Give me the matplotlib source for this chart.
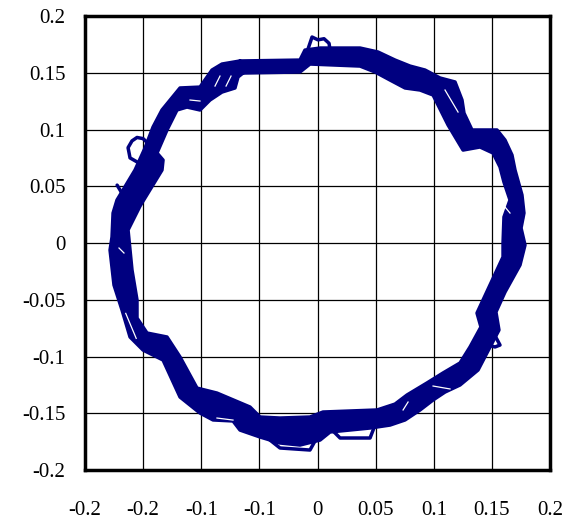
import matplotlib
matplotlib.use('Agg')
import matplotlib.pyplot as plt
from matplotlib.path import Path
from matplotlib.patches import PathPatch

# centre of the flux band
loop_x = [-0.0667, -0.0151, -0.0090, 0.0022, 0.0366, 0.0495, 0.0624, 0.0753, 0.0882, 0.0994,
          0.1140, 0.1286, 0.1398, 0.1527, 0.1587, 0.1656, 0.1716, 0.1742, 0.1673, 0.1725,
          0.1682, 0.1570, 0.1458, 0.1510, 0.1398, 0.1295, 0.1166, 0.1011, 0.0839, 0.0710,
          0.0452, 0.0047, 0.0004, -0.0237, -0.0409, -0.0624, -0.0839, -0.1011, -0.1140, -0.1295,
          -0.1441, -0.1527, -0.1613, -0.1656, -0.1699, -0.1682, -0.1630, -0.1570, -0.1441, -0.1338,
          -0.1252, -0.1140, -0.1028, -0.0908, -0.0796, -0.0667]
loop_y = [0.155, 0.156, 0.164, 0.165, 0.164, 0.159, 0.152, 0.146, 0.144, 0.138,
          0.113, 0.086, 0.093, 0.091, 0.078, 0.056, 0.038, 0.022, 0.010, -0.004,
          -0.018, -0.041, -0.063, -0.077, -0.090, -0.105, -0.119, -0.125, -0.137, -0.149,
          -0.152, -0.154, -0.163, -0.165, -0.163, -0.152, -0.147, -0.138, -0.116, -0.094,
          -0.087, -0.081, -0.059, -0.033, -0.011, 0.010, 0.029, 0.042, 0.070, 0.100,
          0.117, 0.129, 0.125, 0.141, 0.152, 0.155]

# outer revolution
outer_x = [-0.0667, -0.0151, -0.0108, 0.0022, 0.0366, 0.0520, 0.0667, 0.0796, 0.0925, 0.1054,
           0.1183, 0.1243, 0.1260, 0.1329, 0.1544, 0.1613, 0.1673, 0.1699, 0.1759, 0.1776,
           0.1751, 0.1785, 0.1742, 0.1613, 0.1535, 0.1561, 0.1484, 0.1381, 0.1226, 0.1097,
           0.0994, 0.0882, 0.0753, 0.0624, 0.0452, 0.0108, 0.0022, -0.0151, -0.0323, -0.0495,
           -0.0667, -0.0727, -0.0899, -0.1011, -0.1183, -0.1329, -0.1501, -0.1613, -0.1682, -0.1751,
           -0.1785, -0.1768, -0.1759, -0.1725, -0.1673, -0.1570, -0.1484, -0.1415, -0.1338, -0.1183,
           -0.1011, -0.0908, -0.0822, -0.0667]
outer_y = [0.1604, 0.1612, 0.1700, 0.1718, 0.1718, 0.1683, 0.1612, 0.1559, 0.1524, 0.1454,
           0.1419, 0.1260, 0.1145, 0.0996, 0.0996, 0.0907, 0.0775, 0.0643, 0.0423, 0.0264,
           0.0132, -0.0018, -0.0194, -0.0432, -0.0608, -0.0767, -0.0916, -0.1119, -0.1251, -0.1313,
           -0.1383, -0.1471, -0.1559, -0.1604, -0.1630, -0.1665, -0.1736, -0.1780, -0.1762, -0.1709,
           -0.1648, -0.1568, -0.1559, -0.1498, -0.1357, -0.1031, -0.0943, -0.0828, -0.0590, -0.0370,
           -0.0062, 0.0053, 0.0264, 0.0379, 0.0467, 0.0643, 0.0837, 0.1022, 0.1172, 0.1366,
           0.1374, 0.1524, 0.1577, 0.1604]

# inner revolution
inner_x = [-0.0641, -0.0151, -0.0065, 0.0366, 0.0495, 0.0624, 0.0753, 0.0882, 0.0994, 0.1123,
           0.1252, 0.1398, 0.1510, 0.1570, 0.1604, 0.1656, 0.1604, 0.1596, 0.1596, 0.1372,
           0.1406, 0.1312, 0.1226, 0.1080, 0.0942, 0.0770, 0.0667, 0.0512, 0.0047, -0.0065,
           -0.0323, -0.0495, -0.0581, -0.0865, -0.1037, -0.1183, -0.1295, -0.1467, -0.1553, -0.1553,
           -0.1596, -0.1613, -0.1630, -0.1527, -0.1338, -0.1329, -0.1381, -0.1295, -0.1209, -0.1123,
           -0.1011, -0.0925, -0.0822, -0.0710, -0.0684, -0.0641]
inner_y = [0.1498, 0.1507, 0.1577, 0.1559, 0.1507, 0.1436, 0.1366, 0.1348, 0.1304, 0.1040,
           0.0819, 0.0846, 0.0793, 0.0670, 0.0537, 0.0379, 0.0229, 0.0000, -0.0123, -0.0617,
           -0.0740, -0.0916, -0.1057, -0.1145, -0.1233, -0.1339, -0.1419, -0.1471, -0.1489, -0.1533,
           -0.1542, -0.1533, -0.1445, -0.1322, -0.1278, -0.1004, -0.0828, -0.0793, -0.0661, -0.0502,
           -0.0238, -0.0062, 0.0115, 0.0326, 0.0643, 0.0731, 0.0793, 0.0996, 0.1172, 0.1198,
           0.1172, 0.1260, 0.1330, 0.1366, 0.1463, 0.1498]

# small excursions off the band
hook_x = [-0.1460, -0.1613, -0.1630, -0.1596, -0.1553, -0.1501, -0.1460]
hook_y = [0.066, 0.075, 0.084, 0.090, 0.093, 0.092, 0.088]
spike_x = [-0.1724, -0.1660, -0.1630]
spike_y = [0.051, 0.040, 0.048]
top_x = [-0.0108, -0.0047, 0.0004, 0.0056, 0.0099, 0.0108]
top_y = [0.163, 0.1815, 0.179, 0.180, 0.176, 0.170]
right_x = [0.1527, 0.1639, 0.1656, 0.1613, 0.1553]
right_y = [0.0846, 0.0758, 0.0714, 0.0670, 0.0731]
tri_x = [0.1501, 0.1570, 0.1527, 0.1467]
tri_y = [-0.0767, -0.0899, -0.0916, -0.0899]
low_x = [0.0047, 0.0022, -0.0065, -0.0323, -0.0409]
low_y = [-0.155, -0.1665, -0.1824, -0.1806, -0.1736]
low2_x = [0.0108, 0.0194, 0.0452, 0.0495]
low2_y = [-0.163, -0.1718, -0.1718, -0.1604]

# thin white gaps left between neighbouring revolutions
gaps = [
    ([0.1097, 0.1209], [0.1348, 0.1154]),
    ([-0.1097, -0.1011], [0.1260, 0.1251]),
    ([-0.0882, -0.0839], [0.1383, 0.1471]),
    ([-0.0787, -0.0744], [0.1383, 0.1471]),
    ([0.1613, 0.1656], [0.0317, 0.0264]),
    ([0.0994, 0.1140], [-0.1260, -0.1286]),
    ([0.0736, 0.0779], [-0.1471, -0.1401]),
    ([-0.1708, -0.1665], [-0.0044, -0.0088]),
    ([-0.1650, -0.1560], [-0.0620, -0.0840]),
    ([-0.0865, -0.0727], [-0.1542, -0.1560]),
]

ticks = [-0.2, -0.15, -0.1, -0.05, 0, 0.05, 0.1, 0.15, 0.2]
xlabels = ['-0.2', '-0.2', '-0.1', '-0.1', '0', '0.05', '0.1', '0.15', '0.2']
ylabels = ['-0.2', '-0.15', '-0.1', '-0.05', '0', '0.05', '0.1', '0.15', '0.2']

plt.rcParams['font.family'] = ['Liberation Serif', 'DejaVu Serif']
navy = '#000080'

fig = plt.figure(figsize=(5.67, 5.22), dpi=100)
ax = fig.add_axes([0.150, 0.0996, 0.820, 0.8697])

# the overlapping revolutions form a solid band: fill between outer and inner traces
verts = list(zip(outer_x, outer_y)) + list(zip(inner_x[::-1], inner_y[::-1]))
codes = ([Path.MOVETO] + [Path.LINETO] * (len(outer_x) - 1)
         + [Path.MOVETO] + [Path.LINETO] * (len(inner_x) - 1))
ax.add_patch(PathPatch(Path(verts, codes), facecolor=navy, edgecolor='none', zorder=2))

style = dict(color=navy, solid_joinstyle='round', solid_capstyle='round', zorder=3)
ax.plot(loop_x, loop_y, lw=6, **style)
ax.plot(outer_x, outer_y, lw=2.5, **style)
ax.plot(inner_x, inner_y, lw=2.5, **style)
for xs, ys in [(hook_x, hook_y), (spike_x, spike_y), (top_x, top_y), (right_x, right_y),
               (tri_x, tri_y), (low_x, low_y), (low2_x, low2_y)]:
    ax.plot(xs, ys, lw=2.5, **style)
for xs, ys in gaps:
    ax.plot(xs, ys, color='white', lw=0.9, zorder=4)

ax.set_xlim(-0.2, 0.2)
ax.set_ylim(-0.2, 0.2)
ax.set_xticks(ticks)
ax.set_xticklabels(xlabels)
ax.set_yticks(ticks)
ax.set_yticklabels(ylabels)
ax.tick_params(length=0, labelsize=15)
ax.tick_params(axis='x', pad=22)
ax.tick_params(axis='y', pad=14)
ax.grid(True, color='black', lw=0.9)
ax.set_axisbelow(True)
for s in ax.spines.values():
    s.set_linewidth(2.5)
    s.set_color('black')

fig.savefig('out.png', dpi=100)
